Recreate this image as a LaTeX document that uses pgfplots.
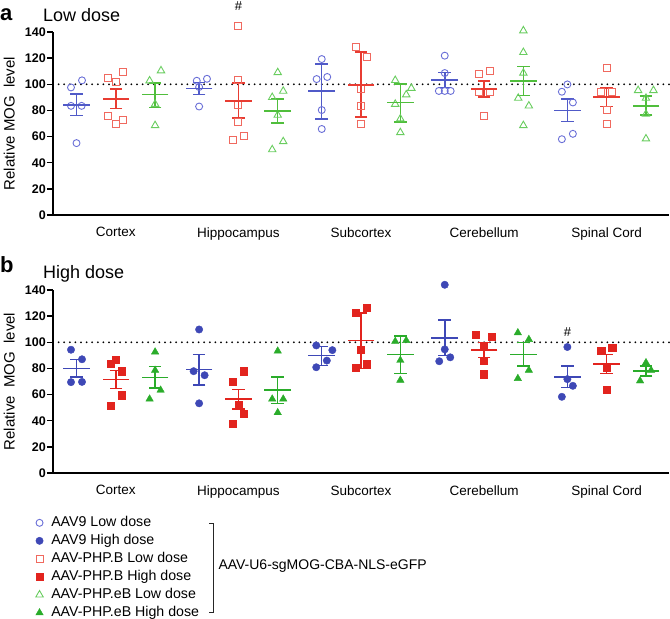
\documentclass[border=0pt]{standalone}
\usepackage{fontspec}
\setmainfont{Liberation Sans}
\usepackage{pgfplots}
\pgfplotsset{compat=1.18}
\definecolor{bL}{RGB}{80,90,200}
\definecolor{bLm}{RGB}{105,110,215}
\definecolor{rL}{RGB}{232,60,50}
\definecolor{rLm}{RGB}{240,105,95}
\definecolor{gL}{RGB}{80,190,60}
\definecolor{gLm}{RGB}{105,205,95}
\definecolor{bH}{RGB}{62,72,182}
\definecolor{rH}{RGB}{226,36,30}
\definecolor{gH}{RGB}{42,172,42}
\pgfplotsset{
 panel/.style={
  scale only axis, width=616pt, height=183pt,
  xmin=-0.598, xmax=15.076, ymin=0, ymax=140,
  axis x line=bottom, axis y line=left,
  axis line style={-, line width=1.6pt, black},
  ytick={0,20,...,140},
  xtick={1,4.12,7.24,10.37,13.49},
  xticklabels={Cortex,Hippocampus,Subcortex,Cerebellum,Spinal Cord},
  x tick style={draw=none},
  y tick style={line width=1.4pt, black},
  tick align=outside, major tick length=6pt,
  /pgf/number format/assume math mode=true,
  yticklabel style={font=\fontsize{12.5}{12.5}\selectfont\bfseries, inner sep=1pt},
  xticklabel style={font=\fontsize{13.5}{13.5}\selectfont, yshift=-3pt},
  clip=false,
  ylabel style={font=\fontsize{15}{15}\selectfont, at={(axis description cs:-0.0617,0.5)}, anchor=south, inner sep=0pt},
 },
 meanstyle/.style={only marks, mark=-, mark size=13.3pt, line width=1.5pt, forget plot,
   error bars/y dir=both, error bars/y explicit, error bars/error bar style={line width=1.5pt},
   error bars/error mark options={rotate=90, mark size=6.3pt, line width=1.5pt}},
 refline/.style={forget plot, black, line width=2pt, line cap=round, dash pattern=on 0pt off 5.6pt},
 lowB/.style={only marks, mark=o, mark size=3.5pt, color=bLm, mark options={line width=0.9pt}},
 lowR/.style={only marks, mark=square, mark size=3.5pt, color=rLm, mark options={line width=0.9pt}},
 lowG/.style={only marks, mark=triangle, mark size=4.3pt, color=gLm, mark options={line width=0.9pt}},
 highB/.style={only marks, mark=*, mark size=3.7pt, color=bH, mark options={draw=bH, fill=bH}},
 highR/.style={only marks, mark=square*, mark size=3.6pt, color=rH, mark options={draw=rH, fill=rH}},
 highG/.style={only marks, mark=triangle*, mark size=4.3pt, color=gH, mark options={draw=gH, fill=gH}},
}
\begin{document}
\begin{tikzpicture}[x=1pt,y=1pt]
\useasboundingbox (0,0) rectangle (670,-619);
\node[anchor=base west, inner sep=0, font=\fontsize{22}{22}\selectfont\bfseries] at (0,-20) {a};
\node[anchor=base west, inner sep=0, font=\fontsize{18}{18}\selectfont] at (43,-21.7) {Low dose};
\node[anchor=base west, inner sep=0, font=\fontsize{22}{22}\selectfont\bfseries] at (0,-272) {b};
\node[anchor=base west, inner sep=0, font=\fontsize{18}{18}\selectfont] at (43,-278) {High dose};

\begin{axis}[panel, at={(53pt,-215pt)}, anchor=south west, ylabel={Relative MOG~~level}]
\addplot[refline] coordinates {(-0.598,100) (15.076,100)};
\addplot[lowB] table {
x y
-0.14 97.6
0.14 103
-0.14 83.5
0.13 83.5
0 55
3.06 102.7
3.32 104.2
3.12 97.9
3.12 83
6.24 119.3
6.11 104
6.38 105.6
6.24 80.3
6.24 65.8
9.37 121.9
9.37 108.6
9.22 94.9
9.37 94.9
9.52 94.9
12.49 99.9
12.35 94.3
12.63 86.1
12.63 62.1
12.35 58
};
\addplot[lowR] table {
x y
0.79 105
1 101.7
1.19 109.4
0.79 75.6
1 69.5
1.19 72.6
4.12 145
4.12 103.5
4.12 84
4.12 71
3.98 57.5
4.26 60.5
7.10 128.5
7.38 120.6
7.24 96.3
7.24 83.5
7.24 69.7
10.23 107.8
10.51 110.4
10.23 94.5
10.51 93.8
10.37 75.4
13.49 112.7
13.35 93.8
13.63 94.5
13.49 80.5
13.49 69.5
};
\addplot[lowG] table {
x y
1.86 102.7
2.15 110.4
2 84.8
2 68.5
5.12 109
5.26 94.8
4.98 90
5.12 76.4
4.98 50
5.26 56.2
8.11 103
8.52 97
8.39 92
8.11 84.8
8.24 73.6
8.24 63.1
11.37 141
11.37 124.4
11.37 108.6
11.24 89.4
11.51 83.5
11.37 68.5
14.29 95.3
14.68 95.3
14.49 89.4
14.49 77.2
14.49 58.3
};
\addplot[meanstyle, color=bL] table[x=x, y=m, y error plus=ep, y error minus=em] {
x m ep em
0 84 8.5 8
3.12 96.8 4.6 4.8
6.24 94.9 20.6 21.5
9.37 103.2 5.9 5.6
12.49 80 8.7 8.5
};
\addplot[meanstyle, color=rL] table[x=x, y=m, y error plus=ep, y error minus=em] {
x m ep em
1 88.9 7.4 7.4
4.12 87.4 13.6 13.3
7.24 99.6 25.1 24.7
10.37 96.3 6.4 5.9
13.49 90.2 6.9 7.2
};
\addplot[meanstyle, color=gL] table[x=x, y=m, y error plus=ep, y error minus=em] {
x m ep em
2 92 9 9.7
5.12 79.7 9.2 9.4
8.24 86.1 14.3 15.1
11.37 102.7 11 11.2
14.49 83.5 7.7 6.9
};
\node[font=\fontsize{13}{13}\selectfont] at (axis cs:4.12,160) {\#};
\end{axis}

\begin{axis}[panel, at={(53pt,-473pt)}, anchor=south west, ylabel={Relative~~MOG~~level},
  legend style={at={(axis description cs:-0.0279,-0.234)}, anchor=north west, draw=none, fill=none,
    inner sep=0pt, outer sep=0pt, row sep=4.0pt, font=\fontsize{14.2}{14.2}\selectfont,
    nodes={inner sep=0pt, text height=10.5pt, text depth=3.5pt},
    /tikz/every odd column/.append style={column sep=8pt}},
  legend cell align=left,
  legend image code/.code={\draw[#1] plot coordinates {(3.5pt,0pt)};}]
\addplot[refline] coordinates {(-0.598,100) (15.076,100)};
\addlegendimage{lowB}
\addlegendentry{AAV9 Low dose}
\addplot[highB] table {
x y
-0.14 94.3
0.14 87
-0.14 69.5
0.14 69.7
3.12 109.8
2.98 77.9
3.26 74.8
3.12 53.3
6.10 97.6
6.51 94
6.37 86
6.10 80.9
9.37 144
9.37 94.6
9.51 88.5
9.23 85.5
12.49 96.4
12.49 71.8
12.63 66.7
12.35 58.3
};
\addlegendentry{AAV9 High dose}
\addlegendimage{lowR}
\addlegendentry{AAV-PHP.B Low dose}
\addplot[highR] table {
x y
0.86 83.7
1 86.7
1.14 77.9
1.14 59.6
0.86 51.5
4.26 77.9
3.98 70
4.12 52
4.26 45.6
3.98 37.5
7.10 122.5
7.38 126.3
7.24 94.3
7.10 80.6
7.38 83.2
10.16 106
10.56 104.5
10.37 97.1
10.37 86.2
10.37 75.6
13.63 95.9
13.35 93.3
13.49 80.6
13.49 63.9
};
\addlegendentry{AAV-PHP.B High dose}
\addlegendimage{lowG}
\addlegendentry{AAV-PHP.eB Low dose}
\addplot[highG] table {
x y
2 92.6
2 78.6
2.14 63.4
1.86 56.6
5.12 93.3
4.98 56.6
5.26 56.6
5.12 46.2
8.11 100.7
8.39 101.4
8.24 86.2
8.24 71
11.23 107.3
11.51 102.2
11.51 78.6
11.23 72.3
14.49 84.4
14.62 78.6
14.34 70.5
};
\addlegendentry{AAV-PHP.eB High dose}
\addplot[meanstyle, color=bH] table[x=x, y=m, y error plus=ep, y error minus=em] {
x m ep em
0 79.9 6.8 6.4
3.12 79.1 11.7 11.9
6.24 89.8 7.1 7.6
9.37 103.2 13.7 13.4
12.49 73.3 8.4 7.9
};
\addplot[meanstyle, color=rH] table[x=x, y=m, y error plus=ep, y error minus=em] {
x m ep em
1 71.5 7.1 6.8
4.12 56.6 7.3 7.7
7.24 101.4 21.1 21.5
10.37 94.1 5.6 5.8
13.49 83.4 7.1 7.3
};
\addplot[meanstyle, color=gH] table[x=x, y=m, y error plus=ep, y error minus=em] {
x m ep em
2 73 8.4 7.8
5.12 63.4 10.1 10.1
8.24 90.5 14.2 14.4
11.37 90.5 9.2 8.6
14.49 78.1 3.8 3.8
};
\node[font=\fontsize{13}{13}\selectfont] at (axis cs:12.49,107.5) {\#};
\end{axis}
\draw[line width=0.9pt, black!85] (209.3,-523.3) -- (213.3,-523.3) -- (213.3,-612.7) -- (209.3,-612.7);
\node[anchor=west, inner sep=0, font=\fontsize{14}{14}\selectfont] at (218.3,-565.7) {AAV-U6-sgMOG-CBA-NLS-eGFP};
\end{tikzpicture}
\end{document}
